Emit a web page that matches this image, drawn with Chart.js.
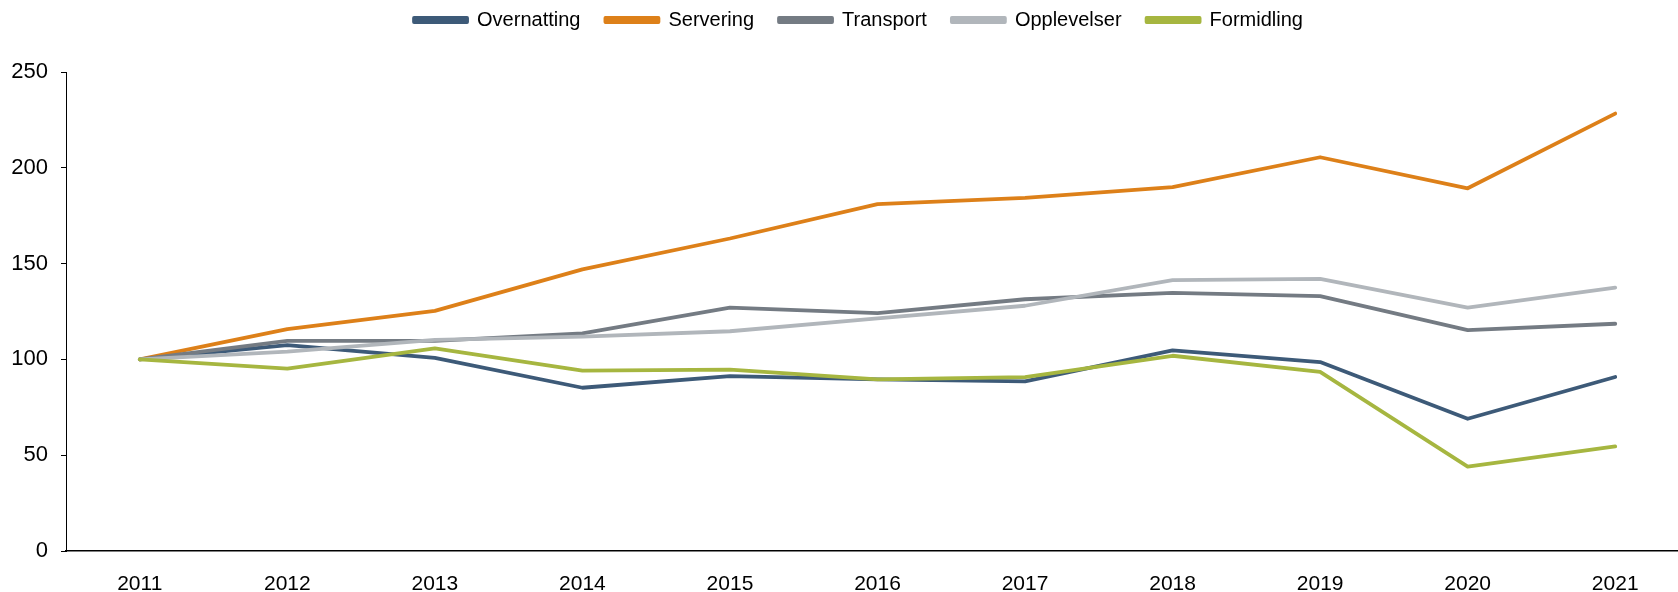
<!DOCTYPE html>
<html>
<head>
<meta charset="utf-8">
<script src="https://cdn.jsdelivr.net/npm/chart.js@4/dist/chart.umd.min.js"></script>
<style>
  html, body { margin: 0; padding: 0; background: #fff; overflow: hidden; }
  #wrap { width: 1690px; height: 592px; position: relative; }
</style>
</head>
<body>
<div id="wrap"><canvas id="c" width="1690" height="592"></canvas></div>
<script>
const years = ['2011','2012','2013','2014','2015','2016','2017','2018','2019','2020','2021'];
const overnatting = [100, 107.5, 100.8, 85.2, 91.3, 89.6, 88.5, 104.7, 98.6, 69.0, 90.8];
const servering   = [100, 115.8, 125.3, 147.0, 163.1, 181.0, 184.3, 189.9, 205.5, 189.3, 228.3];
const transport   = [100, 109.7, 109.7, 113.6, 127.0, 124.2, 131.4, 134.7, 133.0, 115.3, 118.6];
const opplevelser = [100, 104.1, 110.2, 111.9, 114.7, 121.4, 128.0, 141.4, 142.0, 127.0, 137.5];
const formidling  = [100, 95.2, 105.8, 94.1, 94.7, 89.6, 90.8, 101.9, 93.5, 44.0, 54.6];
const seriesNames = ['Overnatting','Servering','Transport','Opplevelser','Formidling'];
const seriesColors = ['#3d5a78','#dd8019','#747b83','#b1b6bb','#a6b640'];
const seriesData = [overnatting, servering, transport, opplevelser, formidling];
const yTicks = [0, 50, 100, 150, 200, 250];

const FONT = '"Liberation Sans", Arial, sans-serif';

const datasets = seriesNames.map((n, i) => ({
  label: n,
  data: seriesData[i],
  borderColor: seriesColors[i],
  backgroundColor: seriesColors[i],
  borderWidth: 3.8,
  pointRadius: 0,
  pointHoverRadius: 0,
  tension: 0,
  fill: false,
  borderJoinStyle: 'round',
  borderCapStyle: 'round',
  order: seriesNames.length - i
}));

const legendTweak = {
  id: 'legendTweak',
  beforeInit(chart) {
    const orig = chart.legend.fit;
    chart.legend.fit = function () {
      orig.bind(chart.legend)();
      this.height = 72;
    };
  },
  afterLayout(chart) {
    const lg = chart.legend;
    lg.left += 14; lg.right += 14;
    lg.top -= 15; lg.bottom -= 15;
  }
};

new Chart(document.getElementById('c'), {
  type: 'line',
  data: { labels: years, datasets },
  plugins: [legendTweak],
  options: {
    responsive: false,
    animation: false,
    devicePixelRatio: 1,
    layout: { padding: { left: 0, right: 1, top: 0, bottom: 0 } },
    plugins: {
      tooltip: { enabled: false },
      legend: {
        position: 'top',
        labels: {
          font: { family: FONT, size: 20 },
          color: '#000',
          boxWidth: 53,
          boxHeight: 4,
          padding: 25,
          sort: (a, b) => a.datasetIndex - b.datasetIndex
        }
      }
    },
    scales: {
      x: {
        type: 'category',
        offset: true,
        grid: { display: false, drawTicks: false },
        border: { display: true, color: '#000', width: 1.6 },
        ticks: { font: { family: FONT, size: 21 }, color: '#000', padding: 21, maxRotation: 0 },
        afterFit(s) { s.height = 41; }
      },
      y: {
        min: 0, max: 250,
        afterBuildTicks(s) { s.ticks = yTicks.map(v => ({ value: v })); },
        grid: { drawOnChartArea: false, drawTicks: true, tickLength: 5, color: '#000', lineWidth: 1 },
        border: { display: true, color: '#000', width: 1 },
        ticks: { font: { family: FONT, size: 22 }, color: '#000', padding: 13 },
        afterFit(s) { s.width = 66; }
      }
    }
  }
});
</script>
</body>
</html>
